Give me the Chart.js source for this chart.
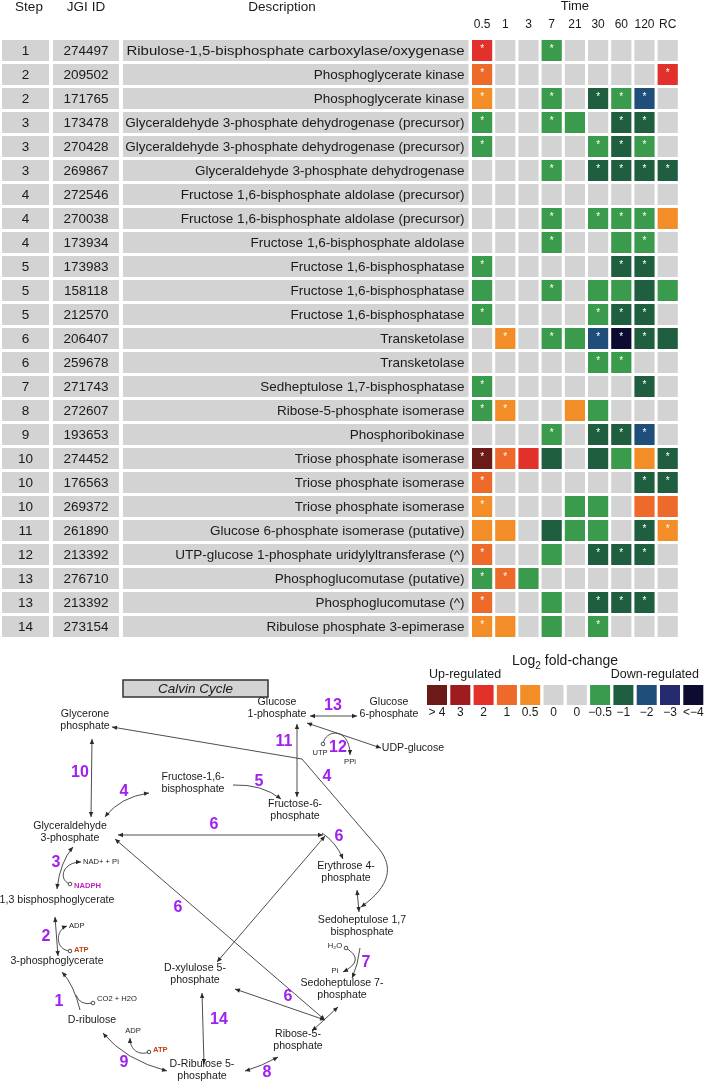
<!DOCTYPE html>
<html><head><meta charset="utf-8">
<script src="https://cdn.jsdelivr.net/npm/chart.js@4.4.0/dist/chart.umd.min.js"></script>
<style>
html,body{margin:0;padding:0;background:#fff;}
#wrap{position:relative;width:709px;height:1082px;background:#fff;}
canvas{position:absolute;left:0;}
#heat{top:0;} #path{top:640px;}
</style></head><body>
<div id="wrap"><canvas id="heat" width="709" height="640"></canvas><canvas id="path" width="709" height="442"></canvas></div>
<script>
// ---------------- DATA ----------------
const steps = [1,2,2,3,3,3,4,4,4,5,5,5,6,6,7,8,9,10,10,10,11,12,13,13,14];
const jgiIds = [274497,209502,171765,173478,270428,269867,272546,270038,173934,173983,158118,212570,206407,259678,271743,272607,193653,274452,176563,269372,261890,213392,276710,213392,273154];
const descriptions = [
 'Ribulose-1,5-bisphosphate carboxylase/oxygenase','Phosphoglycerate kinase','Phosphoglycerate kinase',
 'Glyceraldehyde 3-phosphate dehydrogenase (precursor)','Glyceraldehyde 3-phosphate dehydrogenase (precursor)',
 'Glyceraldehyde 3-phosphate dehydrogenase','Fructose 1,6-bisphosphate aldolase (precursor)',
 'Fructose 1,6-bisphosphate aldolase (precursor)','Fructose 1,6-bisphosphate aldolase',
 'Fructose 1,6-bisphosphatase','Fructose 1,6-bisphosphatase','Fructose 1,6-bisphosphatase',
 'Transketolase','Transketolase','Sedheptulose 1,7-bisphosphatase','Ribose-5-phosphate isomerase',
 'Phosphoribokinase','Triose phosphate isomerase','Triose phosphate isomerase','Triose phosphate isomerase',
 'Glucose 6-phosphate isomerase (putative)','UTP-glucose 1-phosphate uridylyltransferase (^)',
 'Phosphoglucomutase (putative)','Phosphoglucomutase (^)','Ribulose phosphate 3-epimerase'];
const timeLabels = ['0.5','1','3','7','21','30','60','120','RC'];
// log2 fold-change class per time column (4 means >4, -4 means <-4)
const t05  = [2,1,0.5,-0.5,-0.5,0,0,0,0,-0.5,-0.5,-0.5,0,0,-0.5,-0.5,0,4,1,0.5,0.5,1,-0.5,1,0.5];
const t1   = [0,0,0,0,0,0,0,0,0,0,0,0,0.5,0,0,0.5,0,1,0,0,0.5,0,1,0,0.5];
const t3   = [0,0,0,0,0,0,0,0,0,0,0,0,0,0,0,0,0,2,0,0,0,0,-0.5,0,0];
const t7   = [-0.5,0,-0.5,-0.5,0,-0.5,0,-0.5,-0.5,0,-0.5,0,-0.5,0,0,0,-0.5,-1,0,0,-1,-0.5,0,-0.5,-0.5];
const t21  = [0,0,0,-0.5,0,0,0,0,0,0,0,0,-0.5,0,0,0.5,0,0,0,-0.5,-0.5,0,0,0,0];
const t30  = [0,0,-1,0,-0.5,-1,0,-0.5,0,0,-0.5,-0.5,-2,-0.5,0,-0.5,-1,-1,0,-0.5,-0.5,-1,0,-1,-0.5];
const t60  = [0,0,-0.5,-1,-1,-1,0,-0.5,-0.5,-1,-0.5,-1,-4,-0.5,0,0,-1,-0.5,0,0,0,-1,0,-1,0];
const t120 = [0,0,-2,-1,-0.5,-1,0,-0.5,-0.5,-1,-1,-1,-1,0,-1,0,-2,0.5,-1,1,-1,-1,0,-1,0];
const tRC  = [0,2,0,0,0,-1,0,0.5,0,0,-0.5,0,-1,0,0,0,0,-1,-1,1,0.5,0,0,0,0];
// significance (asterisk) per time column
const s05  = [1,1,1,1,1,0,0,0,0,1,0,1,0,0,1,1,0,1,1,1,0,1,1,1,1];
const s1   = [0,0,0,0,0,0,0,0,0,0,0,0,1,0,0,1,0,1,0,0,0,0,1,0,0];
const s3   = [0,0,0,0,0,0,0,0,0,0,0,0,0,0,0,0,0,0,0,0,0,0,0,0,0];
const s7   = [1,0,1,1,0,1,0,1,1,0,1,0,1,0,0,0,1,0,0,0,0,0,0,0,0];
const s21  = [0,0,0,0,0,0,0,0,0,0,0,0,0,0,0,0,0,0,0,0,0,0,0,0,0];
const s30  = [0,0,1,0,1,1,0,1,0,0,0,1,1,1,0,0,1,0,0,0,0,1,0,1,1];
const s60  = [0,0,1,1,1,1,0,1,0,1,0,1,1,1,0,0,1,0,0,0,0,1,0,1,0];
const s120 = [0,0,1,1,1,1,0,1,1,1,0,1,1,0,1,0,1,0,1,0,1,1,0,1,0];
const sRC  = [0,1,0,0,0,1,0,0,0,0,0,0,0,0,0,0,0,1,1,0,1,0,0,0,0];
// legend
const legendValues = [4,3,2,1,0.5,0,0,-0.5,-1,-2,-3,-4];
const legendLabels = ['> 4','3','2','1','0.5','0','0','\u22120.5','\u22121','\u22122','\u22123','<\u22124'];
// pathway diagram content
const metaboliteNames = ['Glycerone\nphosphate','Glucose\n1-phosphate','Glucose\n6-phosphate','UDP-glucose',
 'Fructose-1,6-\nbisphosphate','Fructose-6-\nphosphate','Glyceraldehyde\n3-phosphate','Erythrose 4-\nphosphate',
 '1,3 bisphosphoglycerate','Sedoheptulose 1,7\nbisphosphate','3-phosphoglycerate','D-xylulose 5-\nphosphate',
 'Sedoheptulose 7-\nphosphate','D-ribulose','Ribose-5-\nphosphate','D-Ribulose 5-\nphosphate'];
const stepLabels = ['13','11','12','10','4','5','4','6','6','3','6','2','7','6','1','14','9','8'];
const cofactorNames = ['UTP','PPi','NAD+ + Pi','NADPH','ADP','ATP','H\u2082O','Pi','CO2 + H2O','ADP','ATP'];

// ---------------- STYLE / LAYOUT ----------------
const FONT = "'Liberation Sans', Arial, Helvetica, sans-serif";
const GREY = '#d3d3d3';
const palette = {'4':'#6b1a17','3':'#9e1c1f','2':'#e2312a','1':'#ee6a2b','0.5':'#f28d28','0':GREY,
 '-0.5':'#3b9b4d','-1':'#1f5f40','-2':'#1f4e7b','-3':'#262a6f','-4':'#0b0c2f'};
const colorFor = v => palette[String(v)];
const heatCols = [t05,t1,t3,t7,t21,t30,t60,t120,tRC];
const sigCols = [s05,s1,s3,s7,s21,s30,s60,s120,sRC];

const tableWidths = [51,70,349.5];
const colWidth = 23.2;
const descFit = {0:338}; // rows whose description is stretched to this width in the source
const datasets = [];
['Step','JGI ID','Description'].forEach((lab,k)=>{
  datasets.push({label:lab, data: jgiIds.map(()=>tableWidths[k]), backgroundColor: GREY,
    borderColor:'#ffffff', borderWidth:{left:2,right:2,top:0,bottom:0}, borderSkipped:false});
});
heatCols.forEach((col,c)=>{
  datasets.push({label: timeLabels[c], data: col.map(()=>colWidth), backgroundColor: col.map(colorFor),
    borderColor:'#ffffff', borderWidth:{left:1.5,right:1.5,top:0,bottom:0}, borderSkipped:false});
});

const headerPos = {step:29, id:86, desc:282, headY:7, timeY:6, tickY:25};

const tablePlugin = {
  id:'tableText',
  afterDatasetsDraw(chart){
    const ctx = chart.ctx;
    const m = k => chart.getDatasetMeta(k).data;
    ctx.save();
    ctx.fillStyle = '#1a1a1a';
    ctx.font = `13.5px ${FONT}`;
    ctx.textBaseline = 'middle';
    const S=m(0), I=m(1), D=m(2);
    for(let i=0;i<steps.length;i++){
      ctx.textAlign='center';
      ctx.fillText(String(steps[i]), (S[i].x+S[i].base)/2, S[i].y+0.5);
      ctx.fillText(String(jgiIds[i]), (I[i].x+I[i].base)/2, I[i].y+0.5);
      ctx.textAlign='right';
      if(descFit[i]){
        const w=ctx.measureText(descriptions[i]).width; const sx=descFit[i]/w;
        ctx.save(); ctx.translate(D[i].x-6, D[i].y+0.5); ctx.scale(sx,1);
        ctx.fillText(descriptions[i],0,0); ctx.restore();
      } else ctx.fillText(descriptions[i], D[i].x-6, D[i].y+0.5);
    }
    // headers
    ctx.textAlign='center';
    ctx.font = `13.5px ${FONT}`;
    ctx.fillText('Step', headerPos.step, headerPos.headY);
    ctx.fillText('JGI ID', headerPos.id, headerPos.headY);
    ctx.fillText('Description', headerPos.desc, headerPos.headY);
    const first=m(3)[0], last=m(3+heatCols.length-1)[0];
    ctx.font = `13px ${FONT}`;
    ctx.fillText('Time', (first.base+last.x)/2, headerPos.timeY);
    ctx.font = `12px ${FONT}`;
    timeLabels.forEach((t,c)=>{ const el=m(3+c)[0]; ctx.fillText(t,(el.x+el.base)/2, headerPos.tickY); });
    // asterisks
    ctx.fillStyle='#ffffff'; ctx.font=`10px ${FONT}`; ctx.textBaseline='alphabetic';
    sigCols.forEach((sig,c)=>{ const els=m(3+c); sig.forEach((v,i)=>{ if(v){ const el=els[i];
      ctx.fillText('*',(el.x+el.base)/2, el.y-el.height/2+12);} }); });
    ctx.restore();
  }
};

new Chart(document.getElementById('heat'), {
  type:'bar',
  data:{labels: jgiIds.map((id,i)=>String(i)), datasets},
  options:{indexAxis:'y', responsive:false, animation:false, events:[],
    layout:{padding:{top:38.5,bottom:1.5,left:0,right:0}},
    scales:{x:{type:'linear',stacked:true,min:0,max:709,display:false},
            y:{stacked:true,display:false}},
    plugins:{legend:{display:false}, tooltip:{enabled:false}},
    datasets:{bar:{categoryPercentage:1, barPercentage:0.875}}
  },
  plugins:[tablePlugin]
});

// ---------------- PATHWAY DIAGRAM ----------------
const metabolitePos = [[85,720],[277,708],[389,708],[413,748],[193,783],[295,810],[70,832],[346,872],
 [57,900],[362,926],[57,961],[195,974],[342,989],[92,1020],[298,1040],[202,1070]];
const stepPos = [[333,706],[284,742],[338,748],[80,773],[124,792],[259,782],[327,777],[214,825],[339,837],
 [56,863],[178,908],[46,937],[366,963],[288,997],[59,1002],[219,1020],[124,1063],[267,1073]];
const cofactorPos = [[320,753,'c'],[350,762,'c'],[83,862,'l'],[74,886,'l'],[69,926,'l'],[74,950,'l'],
 [335,946,'c'],[335,971,'c'],[97,999,'l'],[133,1031,'c'],[153,1050,'l']];
const cofactorStyle = [null,null,null,['#c21fc2',true],null,['#c2410f',true],null,null,null,null,['#c2410f',true]];
const edges = [
 {p:[['M',310,716],['L',357,716]],h:'both'},
 {p:[['M',297,724],['L',297,797]],h:'both'},
 {p:[['M',307,723],['L',381,748]],h:'both'},
 {p:[['M',92,739],['L',91,817]],h:'both'},
 {p:[['M',105,817],['Q',120,797,149,793]],h:'both'},
 {p:[['M',233,785],['Q',262,784,281,799]],h:'end'},
 {p:[['M',112,727],['L',302,759],['L',380,850],['C',392,866,392,885,361,907]],h:'both'},
 {p:[['M',118,835],['L',323,835]],h:'both'},
 {p:[['M',322,833],['Q',336,842,343,859]],h:'end'},
 {p:[['M',217,962],['L',325,836]],h:'both'},
 {p:[['M',115,839],['L',325,1020]],h:'both'},
 {p:[['M',235,989],['L',325,1020]],h:'both'},
 {p:[['M',357,890],['L',359,912]],h:'both'},
 {p:[['M',360,948],['Q',358,965,352,978]],h:'end'},
 {p:[['M',346,948],['Q',366,960,343,972]],h:'end',dot:true},
 {p:[['M',312,1031],['L',338,1007]],h:'both'},
 {p:[['M',245,1071],['Q',262,1066,278,1057]],h:'both'},
 {p:[['M',202,993],['L',204,1064]],h:'both'},
 {p:[['M',167,1071],['Q',125,1060,103,1033]],h:'both'},
 {p:[['M',149,1052],['C',139,1056,130,1050,130,1038]],h:'end',dot:true},
 {p:[['M',80,1010],['Q',74,985,62,972]],h:'end'},
 {p:[['M',93,1003],['Q',80,1006,76,995]],h:'none',dot:true},
 {p:[['M',55,917],['L',58,956]],h:'both'},
 {p:[['M',70,951],['C',55,950,55,930,67,926]],h:'end',dot:true},
 {p:[['M',73,847],['Q',60,862,57,889]],h:'both'},
 {p:[['M',70,884],['C',58,880,62,862,81,862]],h:'end',dot:true},
 {p:[['M',323,744],['C',326,728,350,728,350,755]],h:'end',dot:true}
];
const legendBox = {x0:427, pitch:23.3, w:20, top:685, bottom:705, labelY:713};

const diagramPlugin = {
  id:'diagram',
  afterDraw(chart){
    const ctx = chart.ctx, xs = chart.scales.x, ys = chart.scales.y;
    const X=v=>xs.getPixelForValue(v), Y=v=>ys.getPixelForValue(v);
    ctx.save();
    // Calvin cycle box
    ctx.fillStyle=GREY; ctx.strokeStyle='#333'; ctx.lineWidth=1.5;
    ctx.fillRect(X(123),Y(680),X(268)-X(123),Y(697)-Y(680));
    ctx.strokeRect(X(123),Y(680),X(268)-X(123),Y(697)-Y(680));
    ctx.fillStyle='#1a1a1a'; ctx.font=`italic 13.5px ${FONT}`; ctx.textAlign='center'; ctx.textBaseline='middle';
    ctx.fillText('Calvin Cycle', X(195.5), Y(689));
    // legend
    ctx.font=`14px ${FONT}`;
    const a='Log', b='2', c=' fold-change';
    const wa=ctx.measureText(a).width, wc=ctx.measureText(c).width;
    ctx.font=`10px ${FONT}`; const wb=ctx.measureText(b).width;
    let lx = X(565)-(wa+wb+wc)/2;
    ctx.textAlign='left'; ctx.textBaseline='alphabetic';
    ctx.font=`14px ${FONT}`; ctx.fillText(a,lx,Y(665));
    ctx.font=`10px ${FONT}`; ctx.fillText(b,lx+wa,Y(669));
    ctx.font=`14px ${FONT}`; ctx.fillText(c,lx+wa+wb,Y(665));
    ctx.font=`12.5px ${FONT}`;
    ctx.fillText('Up-regulated', X(429), Y(678));
    ctx.textAlign='right'; ctx.fillText('Down-regulated', X(699), Y(678));
    ctx.textAlign='center'; ctx.textBaseline='middle'; ctx.font=`12px ${FONT}`;
    legendValues.forEach((v,i)=>{
      const x0 = legendBox.x0 + legendBox.pitch*i;
      ctx.fillStyle=colorFor(v);
      ctx.fillRect(X(x0),Y(legendBox.top),X(x0+legendBox.w)-X(x0),Y(legendBox.bottom)-Y(legendBox.top));
      ctx.fillStyle='#1a1a1a';
      ctx.fillText(legendLabels[i], X(x0+legendBox.w/2), Y(legendBox.labelY));
    });
    // edges
    ctx.strokeStyle='#3a3a3a'; ctx.lineWidth=0.9;
    const head=(a,b)=>{ const ang=Math.atan2(b[1]-a[1],b[0]-a[0]); const L=5,W=2.2;
      ctx.beginPath(); ctx.moveTo(b[0],b[1]);
      ctx.lineTo(b[0]-L*Math.cos(ang)+W*Math.sin(ang), b[1]-L*Math.sin(ang)-W*Math.cos(ang));
      ctx.lineTo(b[0]-L*Math.cos(ang)-W*Math.sin(ang), b[1]-L*Math.sin(ang)+W*Math.cos(ang));
      ctx.closePath(); ctx.fillStyle='#2a2a2a'; ctx.fill(); };
    edges.forEach(e=>{
      const pts=[]; ctx.beginPath();
      e.p.forEach(cmd=>{
        const v=[]; for(let k=1;k<cmd.length;k+=2) v.push([X(cmd[k]),Y(cmd[k+1])]);
        pts.push(...v);
        if(cmd[0]==='M') ctx.moveTo(v[0][0],v[0][1]);
        else if(cmd[0]==='L') ctx.lineTo(v[0][0],v[0][1]);
        else if(cmd[0]==='Q') ctx.quadraticCurveTo(v[0][0],v[0][1],v[1][0],v[1][1]);
        else ctx.bezierCurveTo(v[0][0],v[0][1],v[1][0],v[1][1],v[2][0],v[2][1]);
      });
      ctx.stroke();
      const n=pts.length;
      if(e.h==='start'||e.h==='both') head(pts[1],pts[0]);
      if(e.h==='end'||e.h==='both') head(pts[n-2],pts[n-1]);
      if(e.dot){ ctx.beginPath(); ctx.arc(pts[0][0],pts[0][1],1.8,0,Math.PI*2); ctx.fillStyle='#fff'; ctx.fill(); ctx.stroke(); }
    });
    // metabolites
    ctx.fillStyle='#1a1a1a'; ctx.font=`10.6px ${FONT}`; ctx.textAlign='center'; ctx.textBaseline='middle';
    metaboliteNames.forEach((t,i)=>{
      const lines=t.split('\n'); const [mx,my]=metabolitePos[i];
      lines.forEach((ln,j)=>ctx.fillText(ln, X(mx), Y(my+(j-(lines.length-1)/2)*12)));
    });
    // cofactors
    cofactorNames.forEach((t,i)=>{
      const [cx,cy,al]=cofactorPos[i]; const st=cofactorStyle[i];
      ctx.fillStyle= st? st[0] : '#1a1a1a';
      ctx.font = `${st&&st[1]?'bold ':''}7.6px ${FONT}`;
      ctx.textAlign = al==='l'?'left':'center';
      ctx.fillText(t, X(cx), Y(cy));
    });
    // step numbers
    ctx.fillStyle='#a020f0'; ctx.font=`bold 16px ${FONT}`; ctx.textAlign='center';
    stepLabels.forEach((t,i)=>ctx.fillText(t, X(stepPos[i][0]), Y(stepPos[i][1])));
    ctx.restore();
  }
};

new Chart(document.getElementById('path'), {
  type:'scatter',
  data:{datasets:[{data: metabolitePos.map(p=>({x:p[0],y:p[1]})), pointRadius:0}]},
  options:{responsive:false, animation:false, events:[],
    layout:{padding:0},
    scales:{x:{type:'linear',min:0,max:709,display:false}, y:{type:'linear',min:640,max:1082,reverse:true,display:false}},
    plugins:{legend:{display:false}, tooltip:{enabled:false}}
  },
  plugins:[diagramPlugin]
});
</script>
</body></html>
